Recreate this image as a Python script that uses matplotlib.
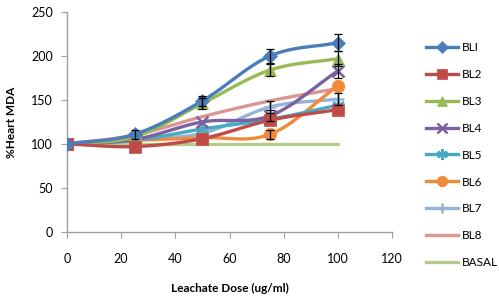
import numpy as np
import matplotlib
matplotlib.use("Agg")
import matplotlib.pyplot as plt
from matplotlib.lines import Line2D

plt.rcParams['font.family'] = ['Lato', 'DejaVu Sans']

doses = [0, 25, 50, 75, 100]
series_names = ["BLI", "BL2", "BL3", "BL4", "BL5", "BL6", "BL7", "BL8", "BASAL"]
bl1 = [100, 111, 149, 200, 215]
bl2 = [100, 97, 106, 127, 139]
bl3 = [100, 108, 146, 184, 197]
bl4 = [100, 105, 125, 132, 183]
bl5 = [100, 104, 117, 128, 144]
bl6 = [100, 104, 107, 111, 166]
bl7 = [100, 106, 112, 142, 151]
bl8 = [100, 110, 131, 149, 163]
basal = [100, 100, 100, 100, 100]
values = [bl1, bl2, bl3, bl4, bl5, bl6, bl7, bl8, basal]

# error bars (only where visible)
err_bl1 = [0, 5, 6, 8, 10]
err_bl3 = [0, 0, 6, 7, 8]
err_bl4 = [0, 0, 0, 6, 8]
err_bl7 = [0, 0, 0, 7, 7]
err_bl6 = [0, 0, 0, 5, 0]
errors = {0: err_bl1, 2: err_bl3, 3: err_bl4, 6: err_bl7, 5: err_bl6}

colors = ["#4A7EBB", "#BE4B48", "#98B954", "#7D60A0", "#46AAC5",
          "#F08A3A", "#95B3D7", "#D99694", "#B3CC8C"]
markers = ["D", "s", "^", "x", (6, 2, 0), "o", "+", None, None]
msizes = [7, 8, 8, 8, 9, 9, 9, 0, 0]


def smooth(x, y, n=30):
    x = np.asarray(x, float)
    y = np.asarray(y, float)
    px = np.concatenate([[2 * x[0] - x[1]], x, [2 * x[-1] - x[-2]]])
    py = np.concatenate([[2 * y[0] - y[1]], y, [2 * y[-1] - y[-2]]])
    xs, ys = [], []
    for i in range(1, len(px) - 2):
        t = np.linspace(0, 1, n, endpoint=False)
        for arr, out in ((px, xs), (py, ys)):
            p0, p1, p2, p3 = arr[i - 1], arr[i], arr[i + 1], arr[i + 2]
            out.append(0.5 * ((2 * p1) + (-p0 + p2) * t +
                              (2 * p0 - 5 * p1 + 4 * p2 - p3) * t ** 2 +
                              (-p0 + 3 * p1 - 3 * p2 + p3) * t ** 3))
    xs.append([x[-1]])
    ys.append([y[-1]])
    return np.concatenate(xs), np.concatenate(ys)


fig = plt.figure(figsize=(4.99, 2.97), dpi=100)
ax = fig.add_axes([0.134, 0.219, 0.652, 0.741])

handles = []
order = [8, 7, 6, 5, 4, 3, 2, 1, 0]
for i in order:
    y = values[i]
    sx, sy = smooth(doses, y)
    ax.plot(sx, sy, color=colors[i], lw=2.4, zorder=2 + (8 - i) * 0.1 if i != 8 else 1.5,
            solid_capstyle='round')
    if markers[i] is not None:
        mew = 1.8 if markers[i] in ("x", "+", (6, 2, 0)) else 0.5
        ax.plot(doses, y, linestyle='none', marker=markers[i], ms=msizes[i],
                color=colors[i], mec=colors[i], mew=mew, zorder=3)
    if i in errors:
        e = errors[i]
        xs = [d for d, v in zip(doses, e) if v > 0]
        ys = [yy for yy, v in zip(y, e) if v > 0]
        es = [v for v in e if v > 0]
        ax.errorbar(xs, ys, yerr=es, fmt='none', ecolor='black', elinewidth=0.9,
                    capsize=3, capthick=0.9, zorder=4)

for i in range(9):
    mew = 1.8 if markers[i] in ("x", "+", (6, 2, 0)) else 0.5
    handles.append(Line2D([0], [0], color=colors[i], lw=2.4,
                          marker=markers[i] if markers[i] is not None else None,
                          ms=msizes[i] * 0.85, mec=colors[i], mew=mew,
                          label=series_names[i]))

ax.set_xlim(0, 120)
ax.set_ylim(0, 250)
ax.set_xticks(range(0, 121, 20))
ax.set_yticks(range(0, 251, 50))
for s in ['top', 'right']:
    ax.spines[s].set_visible(False)
for s in ['left', 'bottom']:
    ax.spines[s].set_color('#A0A0A0')
    ax.spines[s].set_linewidth(1.0)
ax.tick_params(axis='both', colors='#A0A0A0', labelcolor='black', labelsize=9,
               length=4, direction='out')
ax.tick_params(axis='x', pad=11)
ax.tick_params(axis='y', pad=6)

ax.set_xlabel("Leachate Dose (ug/ml)", fontsize=8.5, fontweight='bold', labelpad=13)
ax.set_ylabel("%Heart MDA", fontsize=8.5, fontweight='bold', labelpad=10)

fig.legend(handles=handles, loc='upper left', bbox_to_anchor=(0.845, 0.875),
           frameon=False, fontsize=8.5, handlelength=2.7, labelspacing=1.35,
           handletextpad=0.3, borderaxespad=0)

fig.savefig("out.png", dpi=100)
